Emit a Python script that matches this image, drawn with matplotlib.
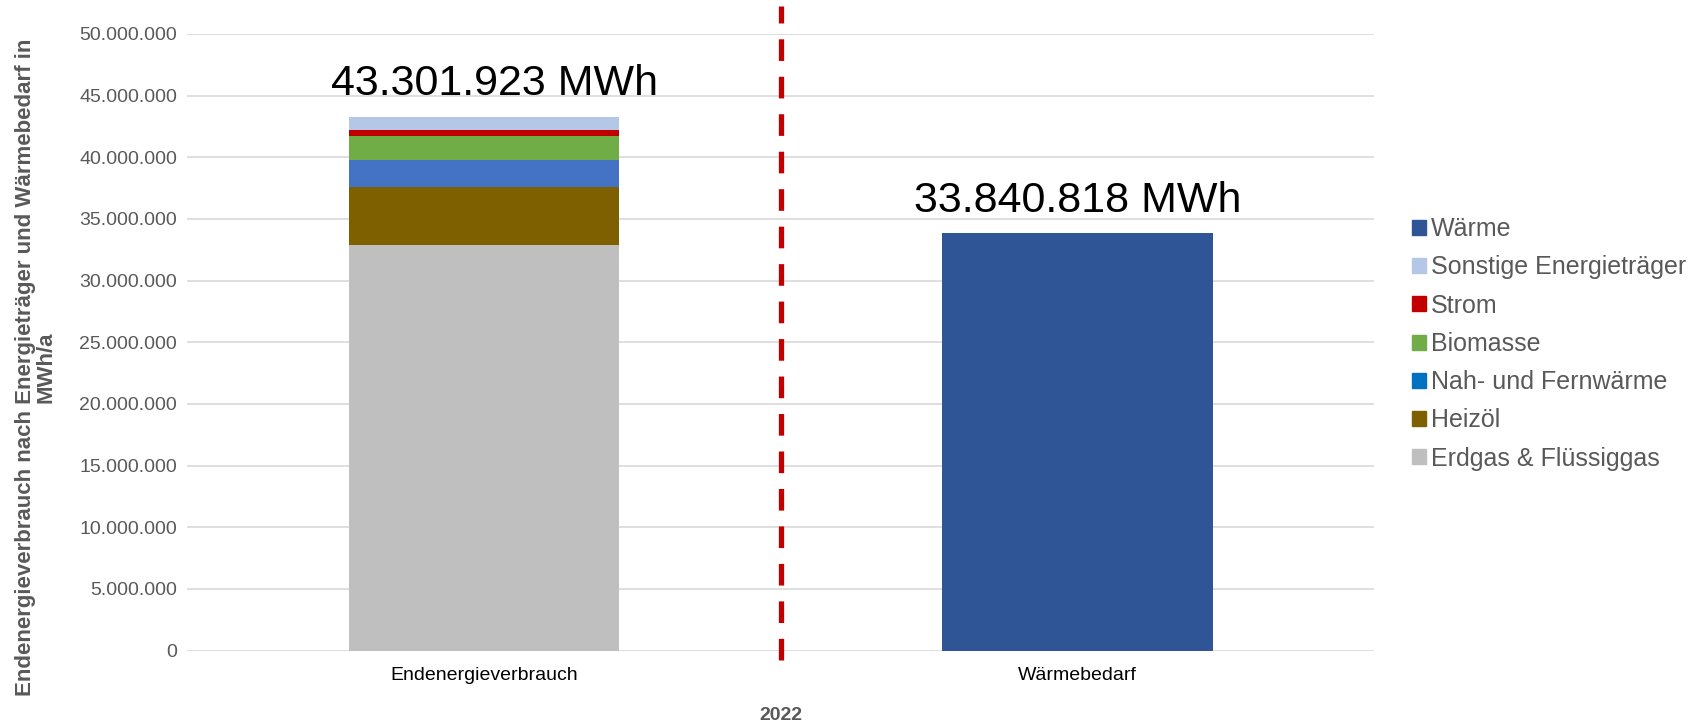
import numpy as np
import matplotlib.pyplot as plt
from matplotlib.patches import Patch
from matplotlib.ticker import FuncFormatter

plt.rcParams['font.family'] = ['Liberation Sans', 'DejaVu Sans']

# Daten (MWh/a), Jahr 2022
kategorien = ['Endenergieverbrauch', 'Wärmebedarf']
traeger = ['Erdgas & Flüssiggas', 'Heizöl', 'Nah- und Fernwärme', 'Biomasse', 'Strom',
           'Sonstige Energieträger']
endenergie = [32870000, 4700000, 2190000, 2000000, 430000, 1111923]
waerme = 33840818
farben_balken = ['#BFBFBF', '#7F6000', '#4472C4', '#70AD47', '#C00000', '#B4C7E7']
farben_legende = ['#BFBFBF', '#7F6000', '#0070C0', '#70AD47', '#C00000', '#B4C7E7']
farbe_waerme = '#2F5597'

grau = '#595959'


def de_zahl(v, pos=None):
    return f'{v:,.0f}'.replace(',', '.')


fig = plt.figure(figsize=(17.03, 7.21), dpi=100)
ax = fig.add_axes([0.1097, 0.0976, 0.6973, 0.8554])

x = np.arange(len(kategorien))
breite = 0.455
unten = 0
for wert, farbe in zip(endenergie, farben_balken):
    ax.bar(x[0], wert, breite, bottom=unten, color=farbe, zorder=3)
    unten += wert
ax.bar(x[1], waerme, breite, color=farbe_waerme, zorder=3)

summe = sum(endenergie)
for xi, wert, dx in [(x[0], summe, 8), (x[1], waerme, 0)]:
    ax.annotate(de_zahl(wert) + ' MWh', (xi, wert), xytext=(dx, 15.5), textcoords='offset points',
                ha='center', va='baseline', fontsize=31, color='black')

# rote gestrichelte Trennlinie zwischen den Balken
ax.plot([0.5, 0.5], [-760000, 52300000], color='#C00000', lw=3.8, clip_on=False,
        dashes=(4.1, 3.0), zorder=4)

ax.set_xlim(-0.5, 1.5)
ax.set_ylim(0, 50000000)
ax.set_yticks(np.arange(0, 50000001, 5000000))
ax.yaxis.set_major_formatter(FuncFormatter(de_zahl))
ax.set_xticks(x)
ax.set_xticklabels(kategorien, fontsize=14, color='black')
ax.tick_params(axis='y', length=0, pad=7, labelsize=14, labelcolor=grau)
ax.tick_params(axis='x', length=0, pad=12)
ax.grid(axis='y', color='#D9D9D9', lw=1.2, zorder=0)
for s in ['top', 'right', 'left', 'bottom']:
    ax.spines[s].set_visible(False)

ax.set_xlabel('2022', fontsize=14, fontweight='bold', color=grau, labelpad=16)
fig.text(0.021, 0.49, 'Endenergieverbrauch nach Energieträger und Wärmebedarf in\nMWh/a',
         rotation=90, ha='center', va='center', fontsize=16, fontweight='bold', color=grau,
         multialignment='center', linespacing=1.0)

handles = [Patch(color=farbe_waerme, label='Wärme')]
for name, farbe in zip(traeger[::-1], farben_legende[::-1]):
    handles.append(Patch(color=farbe, label=name))
fig.legend(handles=handles, loc='center left', bbox_to_anchor=(0.822, 0.523), frameon=False,
           fontsize=18, labelcolor=grau, handlelength=0.55, handleheight=0.55, handletextpad=0.2,
           labelspacing=0.57, borderpad=0)

fig.savefig('out.png', dpi=100)
